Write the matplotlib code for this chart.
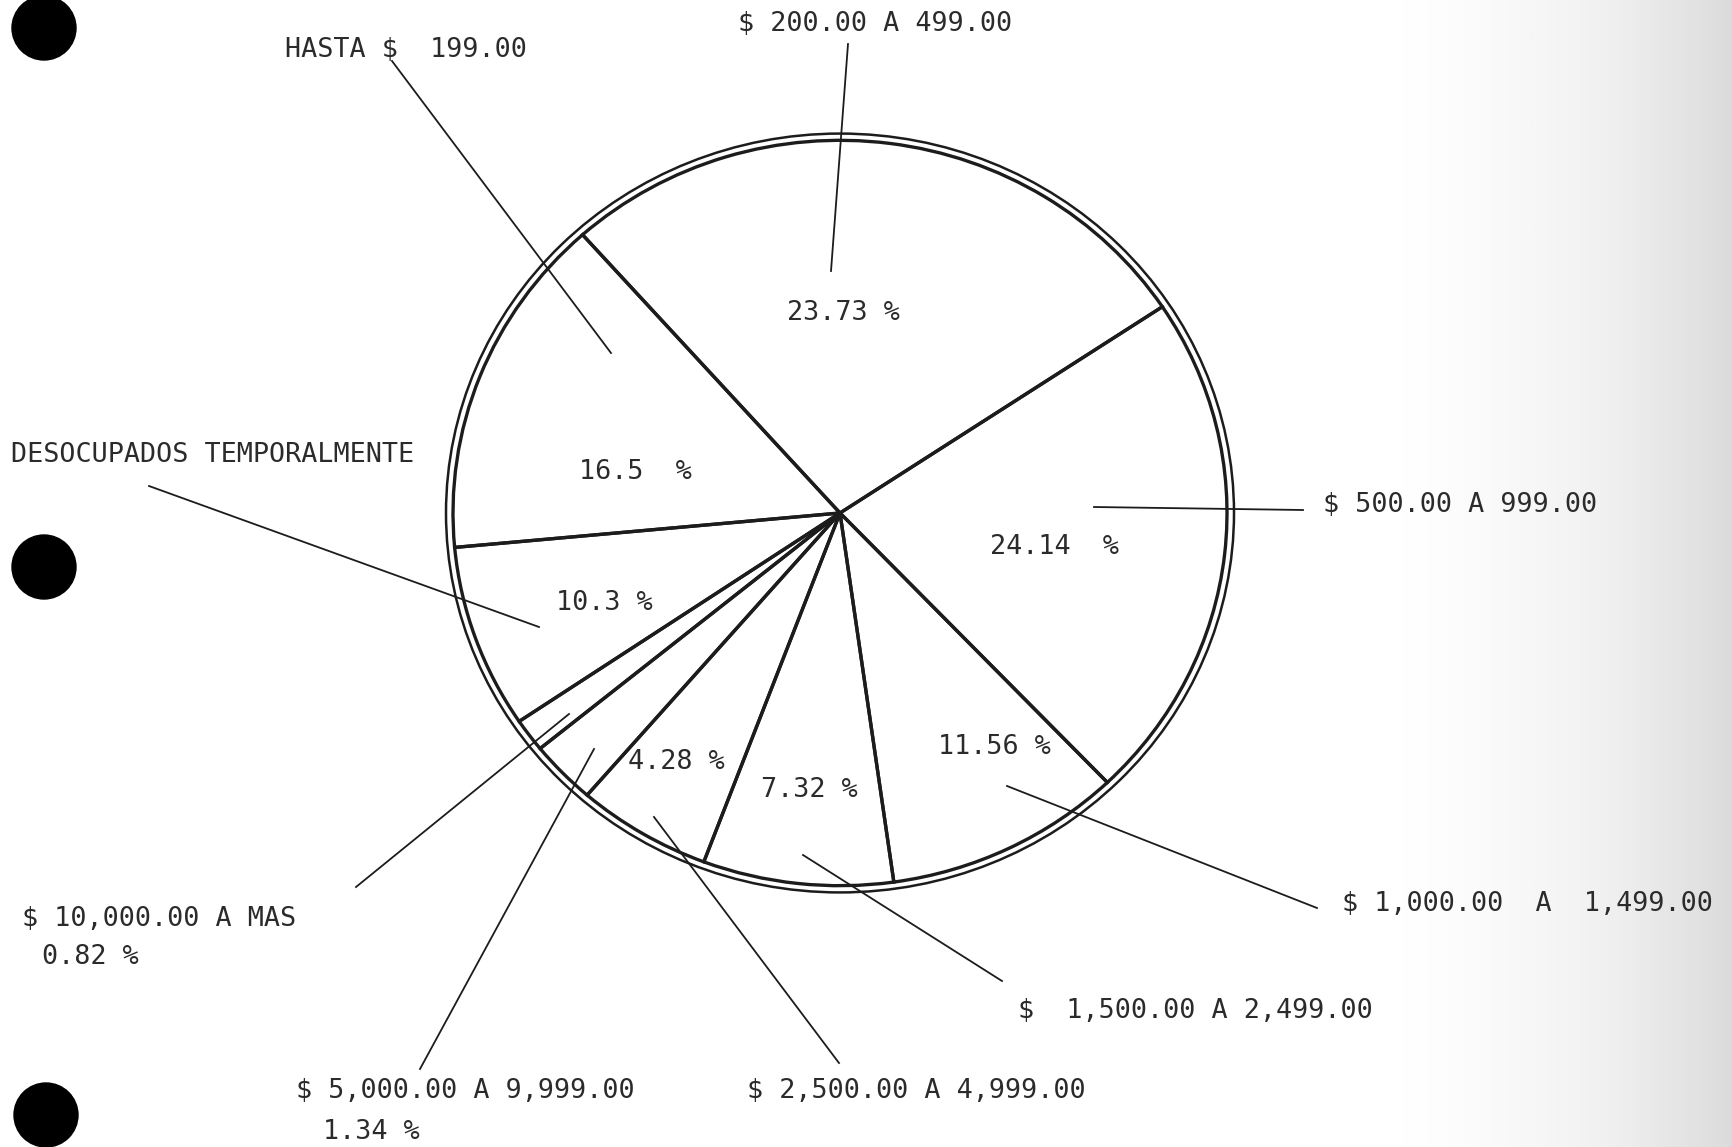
import numpy as np
import matplotlib
matplotlib.use("Agg")
import matplotlib.pyplot as plt
from matplotlib.patches import Circle
from matplotlib.transforms import Affine2D

# income brackets, clockwise from the top slice
brackets = ["$ 200.00 A 499.00", "$ 500.00 A 999.00", "$ 1,000.00  A  1,499.00",
            "$  1,500.00 A 2,499.00", "$ 2,500.00 A 4,999.00", "$ 5,000.00 A 9,999.00",
            "$ 10,000.00 A MAS", "DESOCUPADOS TEMPORALMENTE", "HASTA $  199.00"]
pct = [23.73, 24.14, 11.56, 7.32, 4.28, 1.34, 0.82, 10.3, 16.5]
# the original drawing is not to scale: wedge spans in degrees
drawn_deg = [98.1, 79.9, 35.7, 28.6, 20.2, 10.0, 5.2, 28.7, 53.6]
start_deg = 131.7

W, H = 1732, 1147
cx, cy, r = 840, 513, 387
squash = 0.963  # the drawn circle is a bit flatter than wide

fig = plt.figure(figsize=(W / 100, H / 100), dpi=100)
ax = fig.add_axes([0, 0, 1, 1])

# greyish scan edge on the right
grad = np.linspace(0, 1, 200)[None, :] ** 1.5
ax.imshow(grad, extent=[1380, W, H, 0], cmap="Greys", vmin=0, vmax=4.2,
          aspect="auto", zorder=0)

# y axis points down, so counterclock in data space is clockwise on screen
wedges, _ = ax.pie(drawn_deg, startangle=-start_deg, counterclock=True,
                   center=(cx, cy), radius=r, frame=True,
                   wedgeprops=dict(facecolor="none", edgecolor="#1c1c1c", linewidth=2.4))
ring = Circle((cx, cy), r + 7, fill=False, edgecolor="#1c1c1c", lw=1.8, zorder=3)
ax.add_patch(ring)

flat = Affine2D().translate(-cx, -cy).scale(1, squash).translate(cx, cy) + ax.transData
for p in list(wedges) + [ring]:
    p.set_transform(flat)

ax.set_xlim(0, W)
ax.set_ylim(H, 0)
ax.set_aspect("auto")
ax.axis("off")

font = dict(family="DejaVu Sans Mono", fontsize=19.3, color="#2b2b2b")

# percentages inside the wedges
inner_txt = ["23.73 %", "24.14  %", "11.56 %", "7.32 %", "4.28 %", "", "", "10.3 %", "16.5  %"]
inner_xy = [(843, 313), (1055, 547), (994, 747), (809, 790), (676, 762), None, None,
            (604, 603), (635, 472)]
for t, xy in zip(inner_txt, inner_xy):
    if xy:
        ax.text(*xy, t, ha="center", va="center", **font)

# outer labels: text anchor (left, center y) and leader line ends
label_xy = [(738, 24), (1323, 505), (1342, 904), (1018, 1011), (747, 1091),
            (296, 1091), (22, 919), (11, 455), (285, 50)]
leaders = [((848, 44), (831, 271)), ((1094, 507), (1303, 510)), ((1007, 786), (1317, 908)),
           ((803, 855), (1002, 981)), ((654, 817), (839, 1063)), ((594, 749), (420, 1069)),
           ((569, 714), (356, 887)), ((149, 486), (539, 627)), ((392, 61), (611, 353))]
for name, xy, (a, b) in zip(brackets, label_xy, leaders):
    ax.text(*xy, name, ha="left", va="center", **font)
    ax.plot([a[0], b[0]], [a[1], b[1]], color="#1c1c1c", lw=1.3, zorder=4)

# small slices carry their percentage under the outside label
ax.text(323, 1132, f"{pct[5]} %", ha="left", va="center", **font)
ax.text(42, 957, f"{pct[6]} %", ha="left", va="center", **font)

# binder holes of the scanned page
for hx, hy in [(44, 28), (44, 567), (46, 1115)]:
    ax.add_patch(Circle((hx, hy), 32, color="black", zorder=5, clip_on=False))

fig.savefig("out.png", dpi=100, facecolor="white")
